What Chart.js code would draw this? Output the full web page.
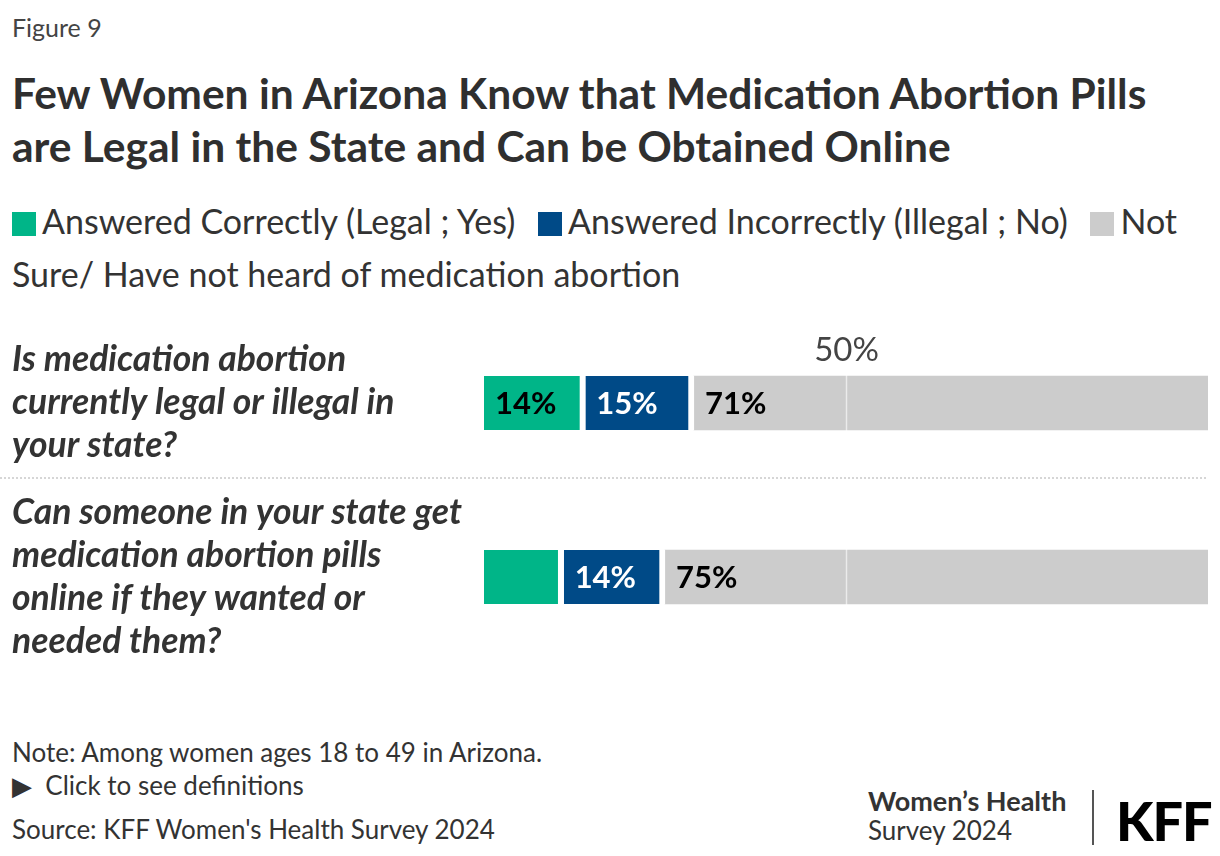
<!DOCTYPE html>
<html>
<head>
<meta charset="utf-8">
<script src="https://cdn.jsdelivr.net/npm/chart.js@4.4.1/dist/chart.umd.min.js"></script>
<style>
  body { margin: 0; background: #fff; font-family: Lato, "Noto Sans", sans-serif; color: #333; }
  #page { position: relative; width: 1220px; height: 856px; overflow: hidden; }
  .abs { position: absolute; }
  #fig { left: 12px; top: 12px; font-size: 25px; line-height: 30px; color: #444; }
  #title { left: 12px; top: 66px; width: 1180px; font-size: 42.5px; line-height: 53px; font-weight: 700; color: #2f2f2f; }
  #legend { left: 12px; top: 194px; width: 1200px; font-size: 34px; line-height: 53px; color: #333; }
  #legend .sw { display: inline-block; width: 24px; height: 24px; margin-right: 6px; vertical-align: -2px; }
  #legend .item { margin-right: 14px; }
  #chartBox { left: 0; top: 300px; width: 1220px; height: 400px; }
  #note { left: 12px; top: 736px; font-size: 26px; line-height: 33px; color: #333; }
  #source { left: 12px; top: 813px; font-size: 26px; line-height: 33px; color: #333; }
  #brand1 { left: 868px; top: 786px; font-size: 27px; font-weight: 700; line-height: 30px; color: #333; }
  #brand2 { left: 868px; top: 815px; font-size: 26px; line-height: 30px; color: #333; }
  #divider { left: 1092px; top: 790px; width: 2px; height: 55px; background: #555; }
  #kff { left: 1116px; top: 790px; font-size: 54px; font-weight: 900; line-height: 62px; color: #000; letter-spacing: -1px; }
</style>
</head>
<body>
<div id="page">
  <div id="fig" class="abs">Figure 9</div>
  <div id="title" class="abs">Few Women in Arizona Know that Medication Abortion Pills are Legal in the State and Can be Obtained Online</div>
  <div id="legend" class="abs"></div>
  <div id="chartBox" class="abs"><canvas id="chart"></canvas></div>
  <div id="note" class="abs">Note: Among women ages 18 to 49 in Arizona.<br>&#9654;&nbsp; Click to see definitions</div>
  <div id="source" class="abs">Source: KFF Women's Health Survey 2024</div>
  <div id="brand1" class="abs">Women’s Health</div>
  <div id="brand2" class="abs">Survey 2024</div>
  <div id="divider" class="abs"></div>
  <div id="kff" class="abs">KFF</div>
</div>
<script>
const categories = [
    ['Is medication abortion', 'currently legal or illegal in', 'your state?'],
    ['Can someone in your state get', 'medication abortion pills', 'online if they wanted or', 'needed them?']
];
const seriesNames = ['Answered Correctly (Legal ; Yes)', 'Answered Incorrectly (Illegal ; No)', 'Not Sure/ Have not heard of medication abortion'];
const correct = [14, 11];
const incorrect = [15, 14];
const notSure = [71, 75];
const xTickValues = [50];

const colors = ['#00b588', '#004a87', '#cccccc'];
const labelColors = ['#000', '#fff', '#000'];
const series = [correct, incorrect, notSure];

// html legend
const legend = document.getElementById('legend');
seriesNames.forEach(function (name, i) {
    let span = document.createElement('span');
    span.className = 'item';
    span.innerHTML = '<span class="sw" style="background:' + colors[i] + '"></span>' + name;
    legend.appendChild(span);
    legend.appendChild(document.createTextNode(' '));
});

const datasets = series.map(function (data, i) {
    return {
        label: seriesNames[i],
        data: data,
        backgroundColor: colors[i],
        borderColor: '#fff',
        borderWidth: i < 2 ? { top: 0, bottom: 0, left: 0, right: 6 } : 0,
        borderSkipped: false,
        barThickness: 54
    };
});

const barLabels = {
    id: 'barLabels',
    afterDatasetsDraw(chart) {
        const ctx = chart.ctx;
        const area = chart.chartArea;
        const x = chart.scales.x;
        const y = chart.scales.y;
        ctx.save();

        // light 50% line over the bars
        xTickValues.forEach(function (v) {
            let px = Math.round(x.getPixelForValue(v)) + 0.5;
            ctx.strokeStyle = 'rgba(255,255,255,0.6)';
            ctx.lineWidth = 1.5;
            ctx.beginPath();
            ctx.moveTo(px, area.top);
            ctx.lineTo(px, area.bottom);
            ctx.stroke();
            ctx.fillStyle = '#444';
            ctx.font = '33px Lato, "Noto Sans", sans-serif';
            ctx.textAlign = 'center';
            ctx.textBaseline = 'middle';
            ctx.fillText(v + '%', px, area.top + 34);
        });

        // dotted separator between questions
        let sepY = Math.round((y.getPixelForValue(0) + y.getPixelForValue(1)) / 2) - 12;
        ctx.strokeStyle = '#d6d6d6';
        ctx.lineWidth = 2;
        ctx.setLineDash([2, 2]);
        ctx.beginPath();
        ctx.moveTo(0, sepY);
        ctx.lineTo(area.right, sepY);
        ctx.stroke();
        ctx.setLineDash([]);

        // value labels
        ctx.font = 'bold 31px Lato, "Noto Sans", sans-serif';
        ctx.textAlign = 'left';
        ctx.textBaseline = 'middle';
        chart.data.datasets.forEach(function (ds, i) {
            const meta = chart.getDatasetMeta(i);
            meta.data.forEach(function (bar, j) {
                let v = ds.data[j];
                if (v < 12) return;
                ctx.fillStyle = labelColors[i];
                ctx.fillText(v + '%', bar.base + 11, bar.y + 1);
            });
        });
        ctx.restore();
    }
};

new Chart(document.getElementById('chart'), {
    type: 'bar',
    data: { labels: categories, datasets: datasets },
    options: {
        indexAxis: 'y',
        responsive: true,
        maintainAspectRatio: false,
        animation: false,
        layout: { padding: { left: 12, right: 12, top: 16, bottom: 36 } },
        plugins: { legend: { display: false }, tooltip: { enabled: false } },
        scales: {
            x: {
                stacked: true,
                min: 0,
                max: 100,
                display: false
            },
            y: {
                stacked: true,
                grid: { display: false },
                border: { display: false },
                ticks: {
                    autoSkip: false,
                    crossAlign: 'far',
                    padding: 0,
                    color: '#333',
                    font: { family: 'Lato, "Noto Sans", sans-serif', size: 35.5, style: 'italic', weight: '700', lineHeight: 1.21 }
                },
                afterFit(scale) {
                    scale.width = 472;
                    scale.paddingTop = 0;
                    scale.paddingBottom = 0;
                }
            }
        }
    },
    plugins: [barLabels]
});
</script>
</body>
</html>
